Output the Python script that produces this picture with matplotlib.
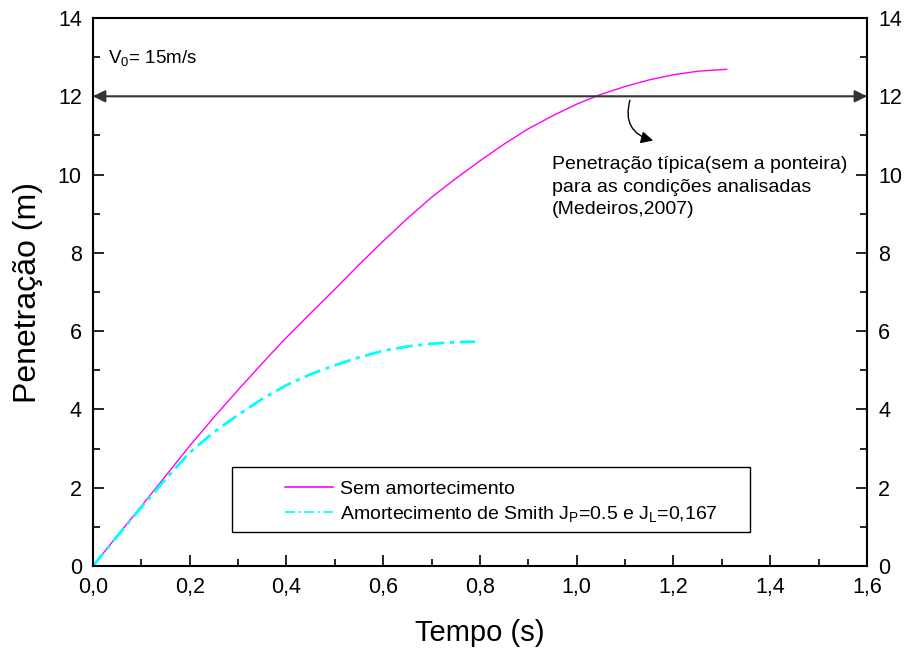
import matplotlib
matplotlib.use("Agg")
import matplotlib.pyplot as plt
from matplotlib.patches import Rectangle
from matplotlib.ticker import MultipleLocator, FuncFormatter

plt.rcParams['font.family'] = ['Liberation Sans', 'DejaVu Sans']
plt.rcParams['mathtext.fontset'] = 'custom'
plt.rcParams['mathtext.rm'] = 'Liberation Sans'
plt.rcParams['mathtext.it'] = 'Liberation Sans'

# tempo (s) / penetracao (m)
t_sem = [0.0, 0.05, 0.1, 0.15, 0.2, 0.25, 0.3, 0.35, 0.4, 0.45, 0.5, 0.55, 0.6, 0.65,
         0.7, 0.75, 0.8, 0.85, 0.9, 0.95, 1.0, 1.05, 1.1, 1.15, 1.2, 1.25, 1.31]
p_sem = [0.0, 0.77, 1.53, 2.30, 3.07, 3.80, 4.50, 5.18, 5.84, 6.46, 7.07, 7.70, 8.30, 8.88,
         9.42, 9.90, 10.35, 10.78, 11.17, 11.50, 11.80, 12.05, 12.25, 12.42, 12.55, 12.64, 12.69]

t_smith = [0.0, 0.05, 0.1, 0.15, 0.2, 0.25, 0.3, 0.35, 0.4, 0.45, 0.5, 0.55, 0.6, 0.65, 0.7, 0.75, 0.79]
p_smith = [0.0, 0.76, 1.50, 2.22, 2.90, 3.42, 3.86, 4.27, 4.62, 4.90, 5.13, 5.33, 5.50, 5.61, 5.68, 5.72, 5.73]

lbl_sem = "Sem amortecimento"
lbl_smith = "Amortecimento de Smith J$_\\mathrm{P}$=0.5 e J$_\\mathrm{L}$=0,167"

fig = plt.figure(figsize=(9.08, 6.5), dpi=100)
ax = fig.add_axes([0.1024, 0.1292, 0.8524, 0.8431])

ax.plot(t_sem, p_sem, color='#ff00ff', lw=1.0, label=lbl_sem)
ax.plot(t_smith, p_smith, color='#00ffff', lw=2.0, ls=(0, (6, 2, 1.5, 2)), label=lbl_smith)

ax.set_xlim(0, 1.6)
ax.set_ylim(0, 14)
ax.xaxis.set_major_locator(MultipleLocator(0.2))
ax.xaxis.set_minor_locator(MultipleLocator(0.1))
ax.yaxis.set_major_locator(MultipleLocator(2))
ax.yaxis.set_minor_locator(MultipleLocator(1))
ax.xaxis.set_major_formatter(FuncFormatter(lambda v, p: ("%.1f" % v).replace('.', ',')))
ax.tick_params(which='both', direction='in', top=False, right=True, labelright=True,
               labelsize=15.5, width=1.2, pad=8)
ax.tick_params(which='major', length=8)
ax.tick_params(which='minor', length=5)
for s in ax.spines.values():
    s.set_linewidth(1.5)

ax.set_xlabel("Tempo (s)", fontsize=21, labelpad=15)
ax.set_ylabel("Penetração (m)", fontsize=23, labelpad=11)

# seta dupla em 12 m
ax.annotate('', xy=(0, 12), xytext=(1.6, 12),
            arrowprops=dict(arrowstyle='<|-|>', color='#333333', lw=1.5,
                            mutation_scale=18, shrinkA=0, shrinkB=0))
ax.annotate('', xy=(1.158, 10.87), xytext=(1.11, 11.9),
            arrowprops=dict(arrowstyle='-|>', color='black', lw=1.0,
                            mutation_scale=18, connectionstyle='arc3,rad=0.5',
                            shrinkA=0, shrinkB=0))
ax.text(0.949, 9.68, "Penetração típica(sem a ponteira)\npara as condições analisadas\n(Medeiros,2007)",
        fontsize=14, va='center', ha='left', linespacing=1.45)
ax.text(0.031, 12.98, "V$_0$= 15m/s", fontsize=13.5, va='center', ha='left')

# caixa da legenda
ax.add_patch(Rectangle((0.18, 0.062), 0.669, 0.119, transform=ax.transAxes,
                       fill=False, edgecolor='black', lw=1.0, zorder=5))
leg = ax.legend(loc='upper left', bbox_to_anchor=(0.248, 0.156), fontsize=14,
                frameon=False, borderaxespad=0, borderpad=0, handlelength=2.45,
                handletextpad=0.4, labelspacing=0.3)
for h in leg.legend_handles:
    h.set_linewidth(1.2)

fig.savefig("out.png", dpi=100)
